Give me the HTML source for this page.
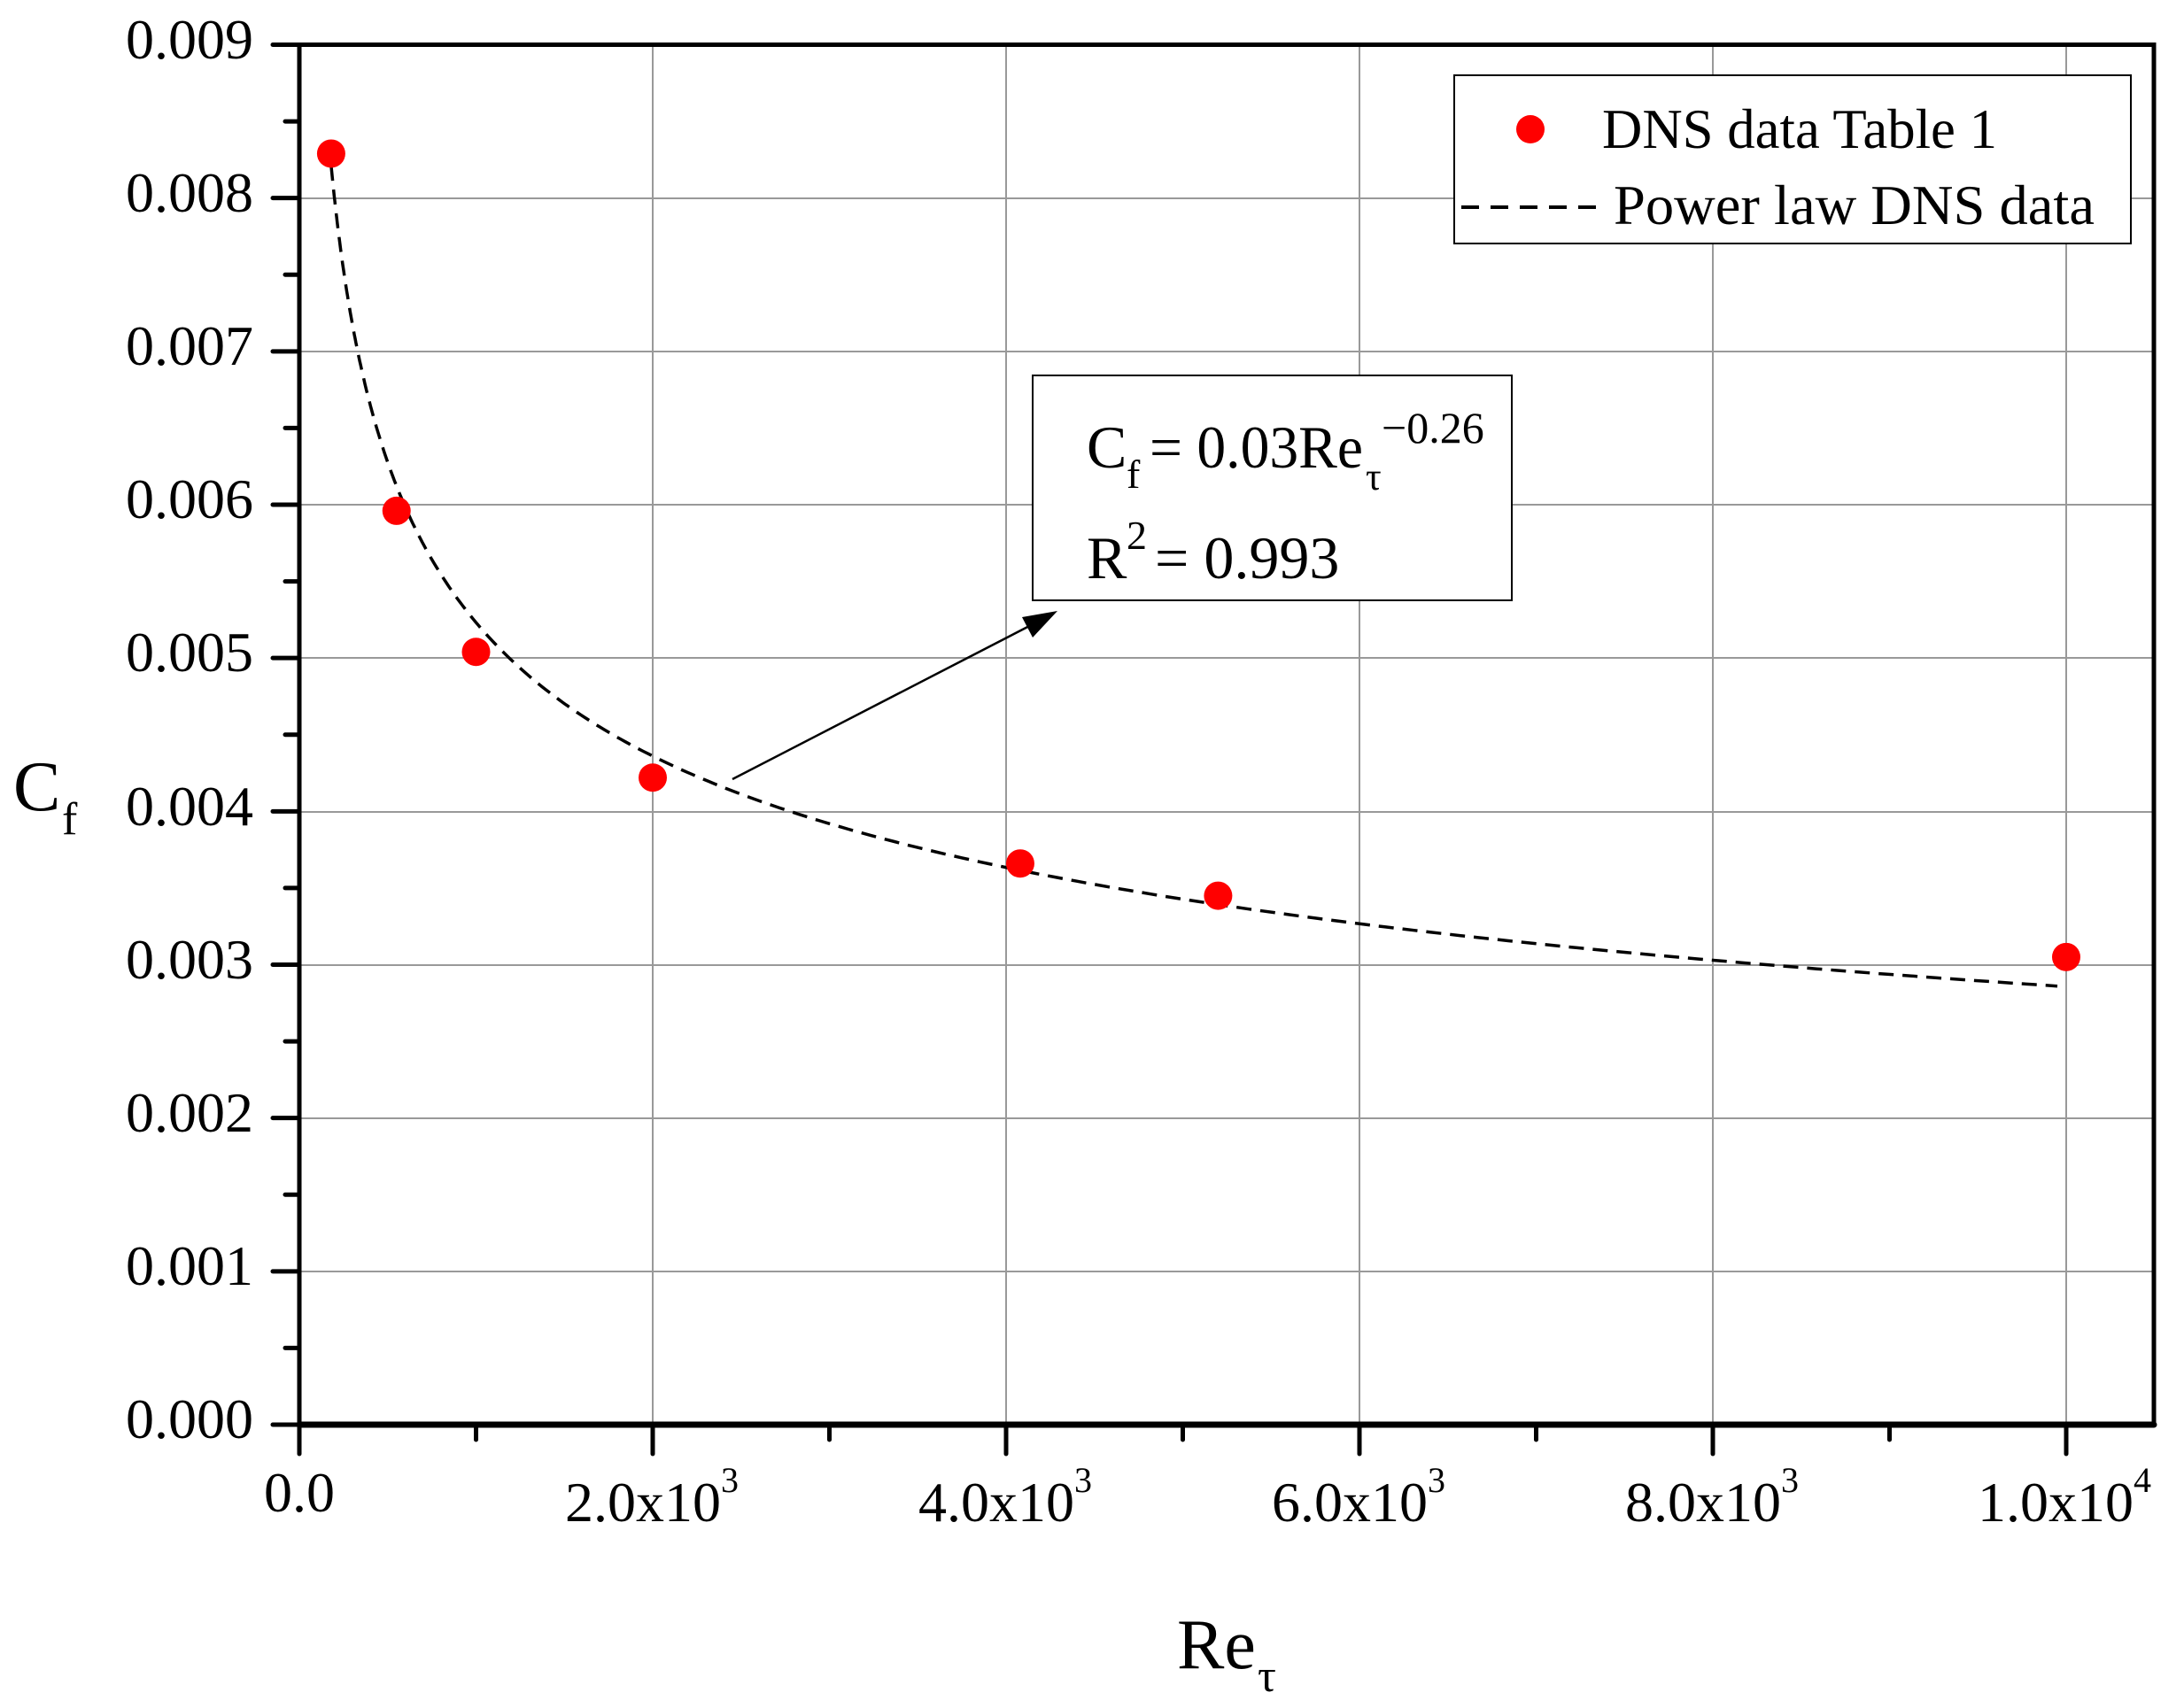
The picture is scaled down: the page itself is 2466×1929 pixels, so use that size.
<!DOCTYPE html>
<html><head><meta charset="utf-8"><style>
html,body{margin:0;padding:0;background:#fff}
svg{display:block}
text{font-family:"Liberation Serif",serif;fill:#000}
</style></head><body>
<svg id="s" width="2466" height="1929" viewBox="0 0 2466 1929" xmlns="http://www.w3.org/2000/svg">
<g stroke="#999" stroke-width="2">
<line x1="737" y1="50" x2="737" y2="1609"/>
<line x1="1136" y1="50" x2="1136" y2="1609"/>
<line x1="1535" y1="50" x2="1535" y2="1609"/>
<line x1="1934" y1="50" x2="1934" y2="1609"/>
<line x1="2333" y1="50" x2="2333" y2="1609"/>
<line x1="338" y1="1436" x2="2432" y2="1436"/>
<line x1="338" y1="1263" x2="2432" y2="1263"/>
<line x1="338" y1="1090" x2="2432" y2="1090"/>
<line x1="338" y1="917" x2="2432" y2="917"/>
<line x1="338" y1="743" x2="2432" y2="743"/>
<line x1="338" y1="570" x2="2432" y2="570"/>
<line x1="338" y1="397" x2="2432" y2="397"/>
<line x1="338" y1="224" x2="2432" y2="224"/>
</g>
<g stroke="#000" stroke-width="6" stroke-linecap="round">
<rect x="338" y="50.5" width="2094" height="1558.5" fill="none" stroke-width="5"/>
<line x1="338" y1="1609" x2="2432" y2="1609" stroke-width="7"/>
</g>
<g id="ticks" stroke="#000" stroke-width="5" stroke-linecap="round"></g>
<g font-size="64" text-anchor="end">
<text x="286" y="66">0.009</text>
<text x="286" y="239">0.008</text>
<text x="286" y="412">0.007</text>
<text x="286" y="585">0.006</text>
<text x="286" y="758">0.005</text>
<text x="286" y="932">0.004</text>
<text x="286" y="1105">0.003</text>
<text x="286" y="1278">0.002</text>
<text x="286" y="1451">0.001</text>
<text x="286" y="1624">0.000</text>
</g>
<g font-size="64">
<text x="338" y="1707" text-anchor="middle">0.0</text>
<text x="638" y="1718">2.0x10<tspan font-size="40" dy="-33">3</tspan></text>
<text x="1037" y="1718">4.0x10<tspan font-size="40" dy="-33">3</tspan></text>
<text x="1436" y="1718">6.0x10<tspan font-size="40" dy="-33">3</tspan></text>
<text x="1835" y="1718">8.0x10<tspan font-size="40" dy="-33">3</tspan></text>
<text x="2233" y="1718">1.0x10<tspan font-size="40" dy="-33">4</tspan></text>
</g>
<text x="15" y="915" font-size="80">C</text>
<text x="70" y="942" font-size="52">f</text>
<text x="1329" y="1884" font-size="80">Re</text>
<text x="1420" y="1910" font-size="52">τ</text>
<path id="curve" fill="none" stroke="#000" stroke-width="3.5" stroke-dasharray="17,10"/>
<g id="dots" fill="#ff0000"></g>
<rect x="1642" y="85" width="764" height="190" fill="#fff" stroke="#000" stroke-width="2"/>
<circle cx="1728" cy="146" r="16" fill="#ff0000"/>
<text x="1809" y="167" font-size="64" textLength="446" lengthAdjust="spacingAndGlyphs">DNS data Table 1</text>
<line x1="1650" y1="234" x2="1809" y2="234" stroke="#000" stroke-width="4" stroke-dasharray="20,13"/>
<text x="1822" y="253" font-size="64" textLength="543" lengthAdjust="spacingAndGlyphs">Power law DNS data</text>
<rect x="1166" y="424" width="541" height="254" fill="#fff" stroke="#000" stroke-width="2"/>
<text x="1227" y="528" font-size="68">C</text>
<text x="1272" y="551" font-size="46">f</text>
<text x="1298" y="528" font-size="68" textLength="241" lengthAdjust="spacingAndGlyphs">= 0.03Re</text>
<text x="1542" y="553" font-size="44">τ</text>
<text x="1560" y="500" font-size="50">−0.26</text>
<text x="1227" y="653" font-size="68">R</text>
<text x="1272" y="620" font-size="46">2</text>
<text x="1304" y="653" font-size="68">= 0.993</text>
<line x1="827" y1="880" x2="1170" y2="703" stroke="#000" stroke-width="2.5"/>
<polygon points="1194,690 1154,697 1166,720" fill="#000"/>
</svg>
<script>
var X=function(v){return 338+v*0.1995},Y=function(v){return 1609-v*173167};
var t=document.getElementById('ticks'),h='';
for(var i=0;i<=10000;i+=1000){var x=X(i),L=(i%2000==0)?33:17;h+='<line x1="'+x+'" y1="1609" x2="'+x+'" y2="'+(1609+L)+'"/>';}
for(var j=0;j<=18;j++){var y=Y(j*0.0005),L=(j%2==0)?30:16;h+='<line x1="'+(338-L)+'" y1="'+y+'" x2="338" y2="'+y+'"/>';}
t.innerHTML=h;
var d='';for(var k=0;k<=300;k++){var v=180*Math.pow(9950/180,k/300);var c=0.03214*Math.pow(v,-0.2628);d+=(k?'L':'M')+X(v).toFixed(1)+','+Y(c).toFixed(1);}
document.getElementById('curve').setAttribute('d',d);
var pts=[[180,0.00829],[550,0.00596],[1000,0.00504],[2000,0.00422],[4080,0.00366],[5200,0.00345],[10000,0.00305]],g='';
pts.forEach(function(p){g+='<circle cx="'+X(p[0])+'" cy="'+Y(p[1])+'" r="16"/>';});
document.getElementById('dots').innerHTML=g;
</script>
</body></html>
